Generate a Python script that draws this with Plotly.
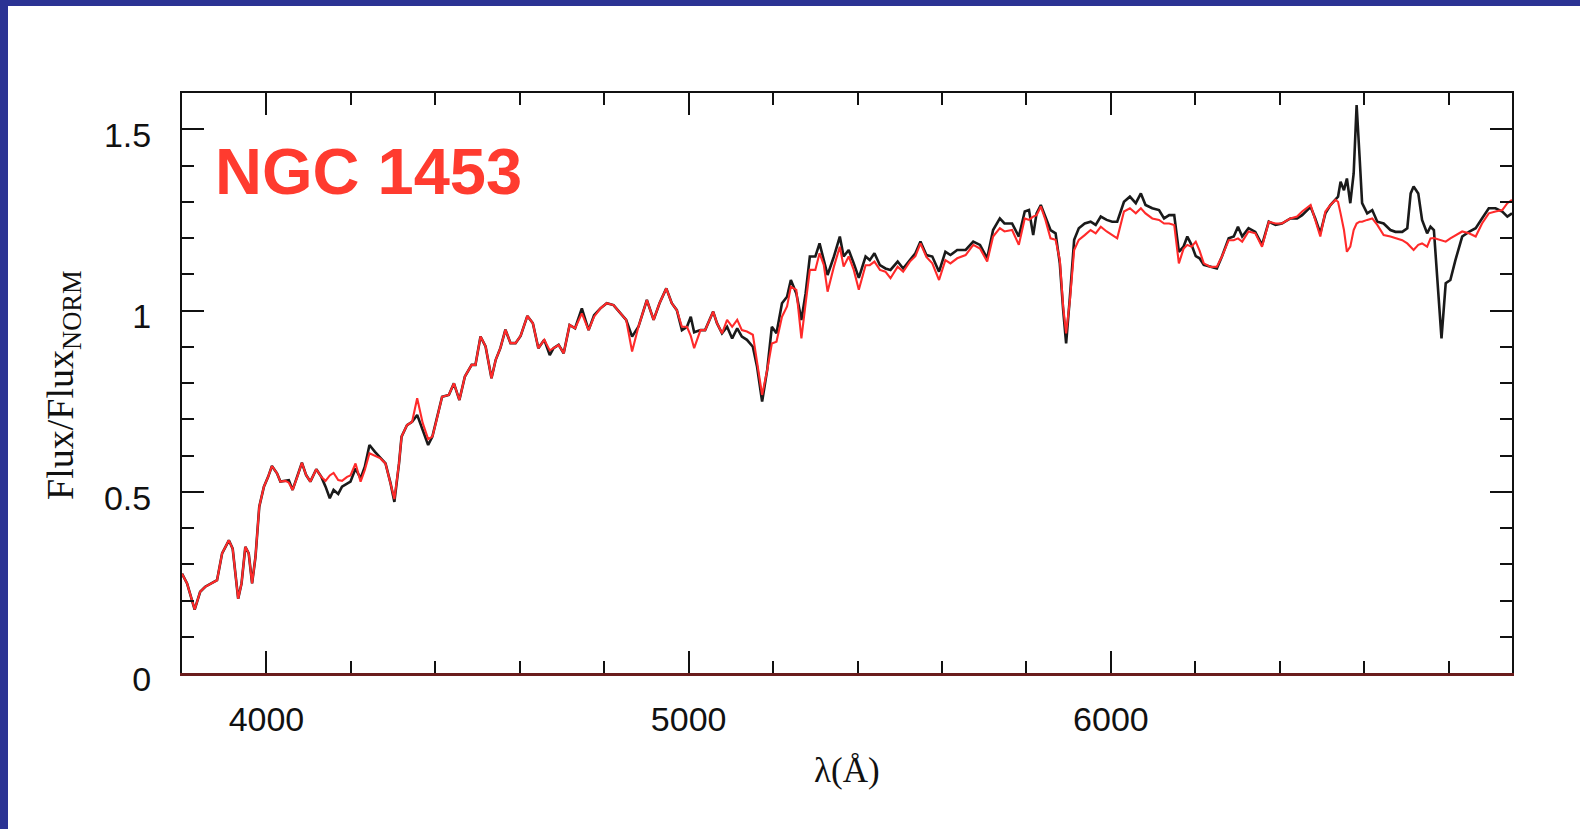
import plotly.graph_objects as go

# wavelength (Angstrom)
wavelength = [3800, 3812, 3830, 3843, 3855, 3871, 3883, 3895, 3911, 3920, 3933, 3941, 3950, 3958, 3966, 3974,
              3983, 3994, 4004, 4013, 4025, 4033, 4045, 4053, 4062, 4073, 4084, 4094, 4104, 4118, 4130, 4140,
              4150, 4159, 4170, 4179, 4191, 4199, 4211, 4223, 4233, 4244, 4257, 4270, 4282, 4294, 4303, 4314,
              4320, 4333, 4345, 4357, 4370, 4383, 4393, 4402, 4416, 4432, 4444, 4457, 4470, 4486, 4495, 4507,
              4519, 4533, 4543, 4554, 4566, 4578, 4590, 4602, 4618, 4631, 4644, 4658, 4671, 4680, 4692, 4704,
              4718, 4731, 4747, 4763, 4776, 4791, 4806, 4822, 4838, 4852, 4866, 4881, 4901, 4917, 4931, 4947,
              4960, 4972, 4984, 4996, 5005, 5013, 5028, 5039, 5058, 5067, 5079, 5091, 5103, 5115, 5126, 5138,
              5152, 5162, 5174, 5186, 5197, 5208, 5221, 5233, 5242, 5255, 5267, 5277, 5287, 5300, 5310, 5320,
              5329, 5344, 5358, 5367, 5379, 5391, 5403, 5419, 5429, 5440, 5453, 5466, 5478, 5495, 5508, 5524,
              5537, 5549, 5563, 5577, 5593, 5608, 5620, 5636, 5656, 5674, 5690, 5707, 5721, 5737, 5748, 5766,
              5782, 5796, 5806, 5816, 5824, 5834, 5845, 5857, 5869, 5879, 5887, 5894, 5903, 5913, 5924, 5938,
              5952, 5964, 5976, 5990, 6003, 6015, 6031, 6045, 6059, 6071, 6082, 6098, 6114, 6126, 6138, 6150,
              6161, 6172, 6181, 6191, 6201, 6210, 6220, 6236, 6251, 6263, 6279, 6291, 6301, 6311, 6326, 6342,
              6358, 6374, 6390, 6405, 6425, 6441, 6453, 6473, 6484, 6496, 6508, 6520, 6532, 6538, 6544, 6552,
              6559, 6567, 6575, 6582, 6589, 6595, 6607, 6619, 6631, 6646, 6662, 6674, 6690, 6702, 6710, 6717,
              6728, 6737, 6749, 6757, 6765, 6773, 6783, 6793, 6804, 6816, 6832, 6848, 6864, 6879, 6895, 6911,
              6927, 6939, 6950]

# observed spectrum (black)
flux_observed = [0.274, 0.247, 0.175, 0.224, 0.238, 0.247, 0.256, 0.330, 0.366, 0.343, 0.205, 0.247, 0.348, 0.330, 0.247, 0.320,
                 0.459, 0.514, 0.541, 0.571, 0.551, 0.528, 0.530, 0.532, 0.505, 0.541, 0.580, 0.546, 0.528, 0.562, 0.541, 0.514,
                 0.482, 0.505, 0.494, 0.514, 0.523, 0.528, 0.564, 0.537, 0.569, 0.629, 0.610, 0.592, 0.578, 0.523, 0.472, 0.578,
                 0.652, 0.684, 0.693, 0.712, 0.670, 0.629, 0.652, 0.693, 0.762, 0.767, 0.799, 0.753, 0.818, 0.850, 0.850, 0.928,
                 0.901, 0.813, 0.864, 0.896, 0.947, 0.910, 0.910, 0.930, 0.985, 0.965, 0.896, 0.919, 0.877, 0.896, 0.905, 0.882,
                 0.960, 0.951, 1.006, 0.946, 0.987, 1.006, 1.020, 1.015, 0.992, 0.974, 0.928, 0.955, 1.029, 0.974, 1.020, 1.061,
                 1.020, 1.001, 0.946, 0.955, 0.983, 0.940, 0.946, 0.946, 0.997, 0.965, 0.937, 0.955, 0.923, 0.951, 0.928, 0.919,
                 0.900, 0.845, 0.749, 0.836, 0.955, 0.937, 1.020, 1.038, 1.084, 1.047, 0.974, 1.047, 1.149, 1.149, 1.185, 1.135,
                 1.098, 1.149, 1.204, 1.149, 1.167, 1.130, 1.090, 1.149, 1.139, 1.158, 1.125, 1.116, 1.112, 1.135, 1.116, 1.139,
                 1.158, 1.190, 1.153, 1.149, 1.107, 1.162, 1.153, 1.167, 1.167, 1.190, 1.181, 1.144, 1.222, 1.254, 1.240, 1.240,
                 1.204, 1.273, 1.277, 1.208, 1.268, 1.291, 1.259, 1.222, 1.213, 1.130, 1.001, 0.909, 1.038, 1.195, 1.227, 1.240,
                 1.245, 1.236, 1.259, 1.250, 1.245, 1.245, 1.300, 1.314, 1.296, 1.323, 1.291, 1.282, 1.277, 1.254, 1.263, 1.263,
                 1.162, 1.176, 1.204, 1.181, 1.150, 1.144, 1.126, 1.121, 1.116, 1.149, 1.199, 1.204, 1.231, 1.204, 1.227, 1.217,
                 1.181, 1.245, 1.236, 1.240, 1.254, 1.254, 1.263, 1.286, 1.254, 1.213, 1.268, 1.291, 1.305, 1.314, 1.355, 1.332,
                 1.364, 1.296, 1.378, 1.567, 1.424, 1.296, 1.268, 1.277, 1.245, 1.240, 1.222, 1.217, 1.217, 1.227, 1.323, 1.342,
                 1.323, 1.250, 1.213, 1.231, 1.222, 1.093, 0.923, 1.075, 1.084, 1.139, 1.204, 1.217, 1.227, 1.254, 1.282, 1.282,
                 1.273, 1.259, 1.268]

# model spectrum (red)
flux_model = [0.274, 0.247, 0.175, 0.224, 0.238, 0.247, 0.256, 0.330, 0.366, 0.343, 0.205, 0.247, 0.348, 0.330, 0.247, 0.320,
              0.459, 0.514, 0.541, 0.571, 0.551, 0.528, 0.530, 0.525, 0.505, 0.541, 0.580, 0.546, 0.528, 0.562, 0.541, 0.530,
              0.545, 0.552, 0.532, 0.530, 0.541, 0.545, 0.578, 0.528, 0.560, 0.606, 0.600, 0.592, 0.578, 0.523, 0.480, 0.578,
              0.652, 0.684, 0.693, 0.758, 0.690, 0.645, 0.652, 0.693, 0.762, 0.767, 0.799, 0.753, 0.818, 0.850, 0.850, 0.928,
              0.901, 0.813, 0.864, 0.896, 0.947, 0.910, 0.910, 0.930, 0.985, 0.965, 0.896, 0.919, 0.890, 0.896, 0.905, 0.882,
              0.960, 0.951, 0.992, 0.946, 0.983, 1.006, 1.020, 1.015, 0.992, 0.974, 0.887, 0.955, 1.029, 0.974, 1.020, 1.061,
              1.020, 1.001, 0.955, 0.955, 0.930, 0.896, 0.946, 0.946, 0.997, 0.965, 0.937, 0.974, 0.955, 0.974, 0.946, 0.942,
              0.933, 0.860, 0.767, 0.836, 0.909, 0.914, 0.983, 1.011, 1.066, 1.057, 0.923, 1.020, 1.112, 1.112, 1.158, 1.126,
              1.052, 1.121, 1.176, 1.121, 1.149, 1.112, 1.057, 1.125, 1.125, 1.135, 1.112, 1.107, 1.089, 1.121, 1.107, 1.135,
              1.150, 1.185, 1.148, 1.130, 1.084, 1.139, 1.130, 1.144, 1.153, 1.181, 1.171, 1.135, 1.204, 1.227, 1.218, 1.222,
              1.181, 1.254, 1.250, 1.259, 1.263, 1.287, 1.250, 1.199, 1.195, 1.140, 1.010, 0.937, 1.029, 1.167, 1.195, 1.208,
              1.222, 1.213, 1.231, 1.218, 1.208, 1.199, 1.273, 1.282, 1.268, 1.282, 1.268, 1.254, 1.250, 1.240, 1.240, 1.236,
              1.130, 1.170, 1.181, 1.176, 1.190, 1.165, 1.130, 1.120, 1.121, 1.149, 1.194, 1.194, 1.199, 1.190, 1.218, 1.213,
              1.176, 1.245, 1.240, 1.240, 1.254, 1.259, 1.273, 1.291, 1.250, 1.204, 1.273, 1.291, 1.305, 1.300, 1.268, 1.222,
              1.162, 1.176, 1.222, 1.240, 1.245, 1.245, 1.250, 1.254, 1.236, 1.208, 1.204, 1.199, 1.194, 1.185, 1.176, 1.167,
              1.181, 1.185, 1.176, 1.199, 1.200, 1.197, 1.194, 1.190, 1.199, 1.208, 1.218, 1.213, 1.204, 1.240, 1.268, 1.273,
              1.277, 1.296, 1.305]

x_range = [3800, 6950]
y_range = [0, 1.6]
x_major_ticks = [4000, 5000, 6000]
y_major_ticks = [0, 0.5, 1, 1.5]
y_tick_text = ["0", "0.5", "1", "1.5"]
galaxy_name = "NGC 1453"

fig = go.Figure()
fig.add_trace(go.Scatter(x=wavelength, y=flux_observed, mode="lines",
                         line=dict(color="#1a1a1a", width=2.6), showlegend=False))
fig.add_trace(go.Scatter(x=wavelength, y=flux_model, mode="lines",
                         line=dict(color="#ff2a2a", width=2.1), showlegend=False))
# invisible trace to activate the top mirror axis
fig.add_trace(go.Scatter(x=x_range, y=y_range, xaxis="x2", mode="lines",
                         line=dict(width=0), hoverinfo="skip", showlegend=False))

tickfont = dict(family="Liberation Sans, Arial, sans-serif", size=34, color="#111111")

fig.update_layout(
    width=1580, height=829,
    margin=dict(l=182, r=68, t=93, b=156),
    paper_bgcolor="white", plot_bgcolor="white",
    xaxis=dict(range=x_range, tickvals=x_major_ticks, ticks="inside", ticklen=22, tickwidth=2,
               tickcolor="#111111", showline=True, linecolor="#6a1c1c", linewidth=2.5,
               showgrid=False, zeroline=False, tickfont=tickfont, ticklabelstandoff=14,
               minor=dict(dtick=200, tick0=3800, ticks="inside", ticklen=12, tickwidth=2,
                          tickcolor="#111111", showgrid=False)),
    xaxis2=dict(range=x_range, overlaying="x", side="top", matches="x", tickvals=x_major_ticks,
                ticks="inside", ticklen=22, tickwidth=2, tickcolor="#111111", showticklabels=False,
                showline=True, linecolor="#111111", linewidth=2, showgrid=False, zeroline=False,
                minor=dict(dtick=200, tick0=3800, ticks="inside", ticklen=12, tickwidth=2,
                           tickcolor="#111111", showgrid=False)),
    yaxis=dict(range=y_range, tickvals=y_major_ticks, ticktext=y_tick_text, ticks="inside", ticklen=22,
               tickwidth=2, tickcolor="#111111", showline=True, linecolor="#111111", linewidth=2,
               mirror="ticks", showgrid=False, zeroline=False, tickfont=tickfont,
               ticklabelstandoff=22, ticklabelshift=6,
               minor=dict(dtick=0.1, tick0=0, ticks="inside", ticklen=12, tickwidth=2,
                          tickcolor="#111111", showgrid=False)),
    shapes=[
        dict(type="rect", xref="paper", yref="paper", x0=-0.14, x1=(8 - 182) / 1330, y0=-0.3, y1=1.2,
             fillcolor="#2b3394", line=dict(width=0), layer="above"),
        dict(type="rect", xref="paper", yref="paper", x0=-0.14, x1=1.06, y0=(673 - 6) / 580, y1=1.2,
             fillcolor="#2b3394", line=dict(width=0), layer="above"),
    ],
    annotations=[
        dict(text=galaxy_name, xref="paper", yref="paper", x=(213 - 182) / 1330, y=(673 - 171) / 580,
             xanchor="left", yanchor="middle", showarrow=False,
             font=dict(family="Liberation Sans, Arial, sans-serif", size=65, color="#ff3b2f", weight="bold")),
        dict(text="λ(Å)", xref="paper", yref="paper", x=(847 - 182) / 1330, y=(673 - 770) / 580,
             xanchor="center", yanchor="middle", showarrow=False,
             font=dict(family="Liberation Serif, Times New Roman, serif", size=35, color="#111111")),
        dict(text="Flux/Flux<sub>NORM</sub>", xref="paper", yref="paper", x=(63 - 182) / 1330,
             y=(673 - 385) / 580, xanchor="center", yanchor="middle", textangle=-90, showarrow=False,
             font=dict(family="Liberation Serif, Times New Roman, serif", size=38, color="#111111")),
    ],
)

fig.write_html("out.html")
